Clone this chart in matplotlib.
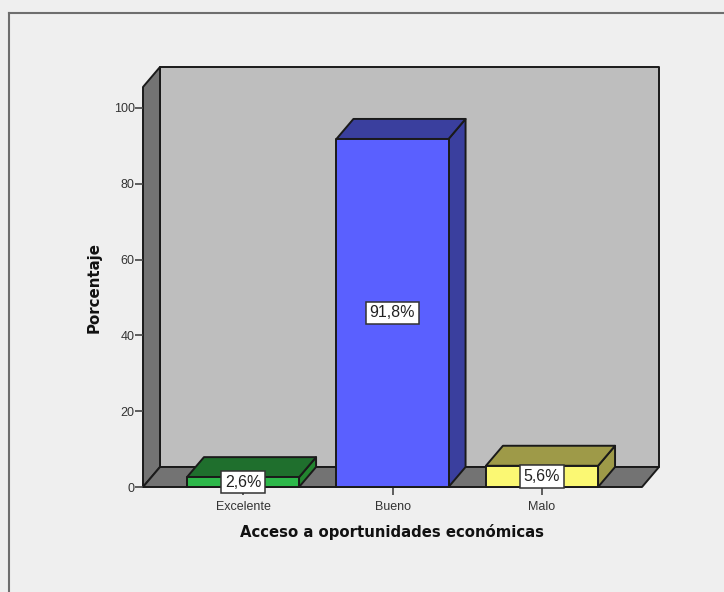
import numpy as np
import matplotlib
matplotlib.use("Agg")
import matplotlib.pyplot as plt

#Data
categories = ["Excelente", "Bueno", "Malo"]
percentages = [2.6, 91.8, 5.6]
value_labels = ["2,6%", "91,8%", "5,6%"]
y_ticks = [0, 20, 40, 60, 80, 100]
x_title = "Acceso a oportunidades económicas"
y_title = "Porcentaje"

front_colors = ["#2DB84A", "#5A60FF", "#FBF873"]
top_colors = ["#1F6F2D", "#3A3F9E", "#9E9A48"]
side_colors = ["#23842F", "#3A3F9E", "#9E9A48"]

W, H = 724, 592
BG = "#EFEFEF"
EDGE = "#1A1A1A"
plt.rcParams["font.family"] = ["Liberation Sans", "DejaVu Sans"]

fig = plt.figure(figsize=(W / 100, H / 100), dpi=100, facecolor=BG)

#axes box is the front plane of the 3D box, in pixels of the figure
ax = fig.add_axes([143 / W, 1 - 487 / H, (642 - 143) / W, (487 - 87) / H])
ax.set_facecolor("none")
ax.set_xlim(-0.669, 2.669)
ax.set_ylim(0, 105.5)
for s in ax.spines.values():
    s.set_visible(False)

#depth of the 3D effect in data units
dx = 17 / 149.5
dy = 20 / 3.79
bar_w = 0.75
x0, x1 = ax.get_xlim()
ytop = ax.get_ylim()[1]

def poly(xs, ys, color, z):
    ax.fill(xs, ys, facecolor=color, edgecolor=EDGE, linewidth=1.4, clip_on=False,
            zorder=z, joinstyle="round")

#walls: back, left side, floor
poly([x0 + dx, x1 + dx, x1 + dx, x0 + dx], [dy, dy, ytop + dy, ytop + dy], "#BEBEBE", 1)
poly([x0, x0 + dx, x0 + dx, x0], [0, dy, ytop + dy, ytop], "#737373", 1)
poly([x0, x1, x1 + dx, x0 + dx], [0, 0, dy, dy], "#737373", 1)

#bars
for i, v in enumerate(percentages):
    l = i - bar_w / 2
    r = i + bar_w / 2
    poly([r, r + dx, r + dx, r], [0, dy, v + dy, v], side_colors[i], 3)
    poly([l, r, r + dx, l + dx], [v, v, v + dy, v + dy], top_colors[i], 3)
    poly([l, r, r, l], [0, 0, v, v], front_colors[i], 3)

for i, v in enumerate(percentages):
    ax.text(i, v / 2, value_labels[i], ha="center", va="center", fontsize=11.5,
            color="#222222", zorder=6,
            bbox=dict(boxstyle="square,pad=0.24", facecolor="white", edgecolor="#333333", linewidth=1.1))

ax.set_xticks(range(len(categories)))
ax.set_xticklabels(categories)
ax.set_yticks(y_ticks)
ax.tick_params(axis="x", length=6, width=1.2, color="#444444", labelsize=9, labelcolor="#333333", pad=4)
ax.tick_params(axis="y", length=6, width=1.2, color="#444444", labelsize=9, labelcolor="#333333", pad=0)

fig.text(392 / W, 1 - 532 / H, x_title, ha="center", va="center", fontsize=10.7,
         fontweight="bold", color="#111111", family=["DejaVu Sans"])
fig.text(94.5 / W, 1 - 287 / H, y_title, ha="center", va="center", rotation=90, fontsize=10.8,
         fontweight="bold", color="#111111", family=["DejaVu Sans"])

#frame of the chart, runs off the image on the right and at the bottom
frame = "#6E6E6E"
fig.add_artist(plt.Line2D([9 / W, 9 / W], [0, 1 - 13 / H], color=frame, linewidth=1.5))
fig.add_artist(plt.Line2D([9 / W, 1], [1 - 13 / H, 1 - 13 / H], color=frame, linewidth=1.5))

fig.savefig("out.png", dpi=100, facecolor=BG)
